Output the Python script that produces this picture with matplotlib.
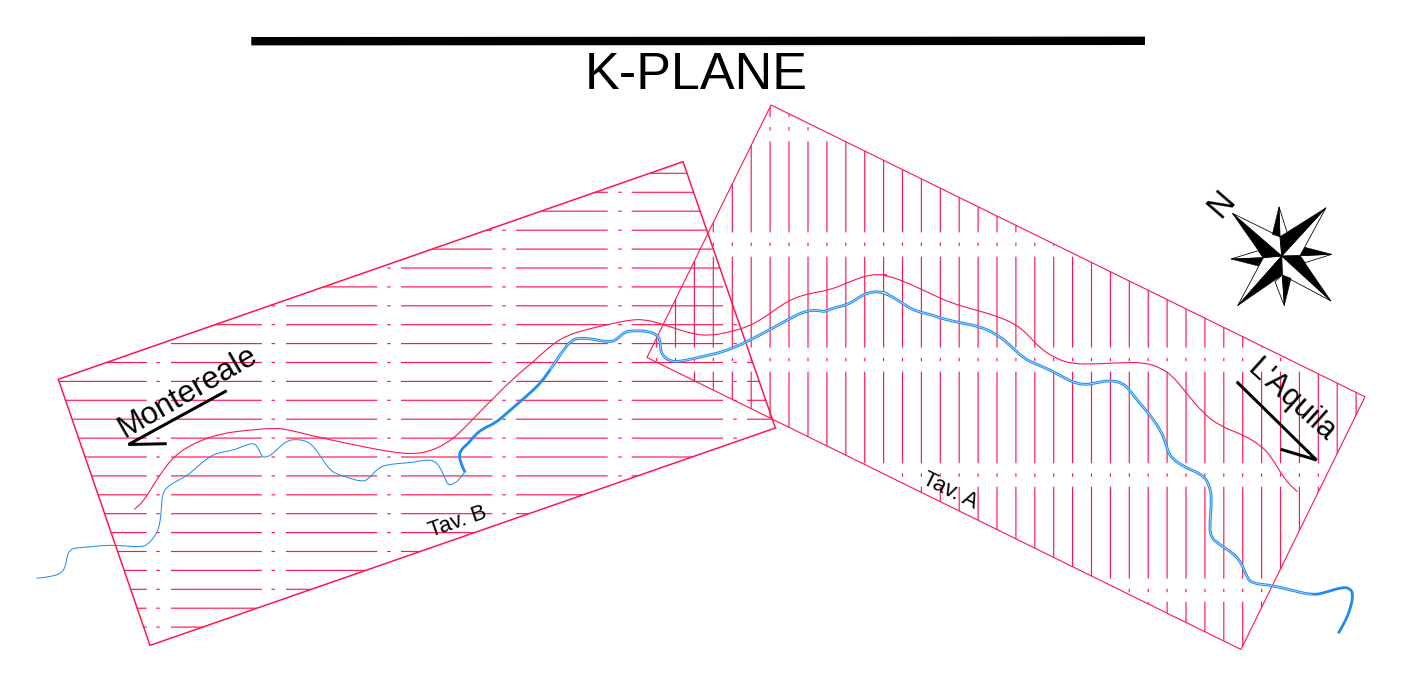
import numpy as np
import matplotlib
matplotlib.use("Agg")
import matplotlib.pyplot as plt
from matplotlib.patches import Polygon, PathPatch
from matplotlib.path import Path

plt.rcParams['font.family'] = ['Liberation Sans', 'DejaVu Sans']

RED = "#FF1450"
BLUE = "#1E8CF0"
PX = 0.72  # one pixel in points at dpi 100

# ---- sheets (image pixel coordinates)
tav_b_corners = [(58.3, 379.3), (683, 161.7), (775.4, 428), (150, 645.4)]
tav_a_corners = [(771, 105), (1365, 396.8), (1241, 649.5), (647, 357.5)]

# ---- hatching of the sheets
tav_b_rows = [173.3, 192.3, 211.2, 230.2, 249.1, 268, 286.9, 305.8, 324.7, 343.6,
              362.5, 381.4, 400.3, 419.2, 438.1, 457, 475.9, 494.8, 513.7, 532.6,
              551.5, 570.4, 589.3, 608.2, 627.1]
tav_b_dashes = [(50, 146.7), (171, 261.9), (286, 377.2), (401, 492.3), (516, 607.7),
                (631.7, 723), (747, 838.3)]
tav_b_dots = [(156.3, 159.7), (271.5, 275), (387.2, 390.7), (502.3, 505.8),
              (618.2, 621.7), (733.4, 736.8)]

tav_a_cols = [656.7, 675.5, 694.4, 713.3, 732.3, 751.2, 770.1, 789, 808, 826.9,
              845.8, 864.7, 883.6, 902.5, 921.4, 940.3, 959.2, 978.1, 997, 1015.9,
              1034.8, 1053.7, 1072.6, 1091.5, 1110.4, 1129.3, 1148.2, 1167.1, 1186,
              1204.9, 1223.8, 1242.7, 1261.6, 1280.5, 1299.4, 1318.3, 1337.2, 1356.1]
tav_a_dashes = [(26, 117), (141.3, 232.4), (256.7, 347.6), (371.7, 463.2),
                (486.7, 578.6), (601.7, 693)]
tav_a_dots = [(127, 130.5), (242.6, 246), (357.8, 361.2), (473.3, 476.8), (588.8, 592.2)]

# ---- traced lines: (x, y) on a 3x crop whose origin is given in the trace() call
river_west_thin = [(20, 1285), (60, 1280), (90, 1272), (105, 1255), (110, 1225), (118, 1200),
                   (140, 1193), (180, 1191), (220, 1186), (260, 1186), (300, 1189), (335, 1190),
                   (352, 1184), (370, 1165), (385, 1140), (392, 1105), (395, 1060), (398, 1030),
                   (412, 1010), (440, 993), (470, 978), (500, 952), (535, 922), (565, 908),
                   (610, 901), (645, 886), (670, 879), (683, 890), (695, 920), (710, 922),
                   (730, 910), (755, 885), (775, 871), (800, 868), (830, 873), (852, 890),
                   (875, 925), (900, 960), (920, 972), (960, 985), (995, 995), (1015, 988),
                   (1040, 958), (1065, 945), (1110, 940), (1150, 937), (1190, 929), (1215, 933),
                   (1232, 955), (1245, 985), (1255, 1007), (1275, 1000), (1290, 985), (1305, 965)]
river_mid = [(75, 1117), (65, 1095), (57, 1070), (62, 1050), (85, 1030), (105, 1005), (130, 985),
             (165, 970), (200, 940), (240, 905), (275, 875), (305, 845), (330, 810), (350, 780),
             (370, 750), (395, 720), (420, 714), (450, 716), (480, 722), (515, 726), (530, 718),
             (555, 695), (580, 692), (620, 693), (650, 703), (660, 720), (661, 745), (668, 768),
             (690, 783), (715, 785), (750, 778), (800, 767), (850, 755), (900, 735), (960, 705),
             (1020, 672), (1060, 650), (1100, 632), (1135, 631), (1155, 636), (1175, 625),
             (1220, 615), (1250, 597), (1280, 578), (1320, 574), (1350, 585)]
river_east = [(0, 335), (20, 342), (45, 355), (70, 372), (105, 393), (150, 403), (190, 417),
              (240, 428), (300, 440), (345, 460), (385, 490), (430, 535), (470, 553), (515, 572),
              (550, 592), (580, 607), (615, 615), (650, 608), (690, 601), (725, 608), (745, 625),
              (775, 665), (810, 705), (845, 755), (860, 800), (870, 830), (910, 860), (970, 885),
              (990, 920), (995, 960), (990, 1020), (990, 1070), (1020, 1095), (1060, 1120),
              (1085, 1150), (1100, 1190), (1115, 1210), (1175, 1216), (1240, 1232), (1300, 1246),
              (1340, 1236), (1385, 1222), (1410, 1224), (1420, 1245), (1410, 1290), (1395, 1325),
              (1375, 1360)]

bank_west = [(313, 1078), (340, 1055), (370, 1005), (400, 960), (430, 922), (470, 892), (520, 868),
             (580, 850), (640, 842), (730, 834), (770, 838), (850, 858), (950, 880), (1050, 900),
             (1100, 908), (1150, 912), (1200, 904), (1250, 880), (1290, 848), (1350, 785)]
bank_mid = [(150, 905), (220, 835), (280, 785), (340, 730), (385, 705), (440, 688), (520, 670),
            (570, 660), (610, 658), (660, 670), (710, 687), (760, 702), (810, 707), (860, 698),
            (920, 682), (970, 655), (1020, 618), (1060, 595), (1110, 580), (1170, 570), (1230, 545),
            (1280, 526), (1320, 523), (1350, 527)]
bank_east = [(0, 284), (40, 292), (90, 312), (150, 340), (210, 368), (280, 388), (350, 408),
             (405, 432), (440, 460), (480, 505), (530, 537), (580, 552), (650, 552), (720, 548),
             (790, 547), (840, 562), (880, 590), (920, 640), (970, 700), (1020, 738), (1090, 765),
             (1140, 795), (1170, 825), (1200, 875), (1225, 910), (1252, 935)]

# ---- title, labels, arrows
title_text = "K-PLANE"
title_bar = [(251.3, 41.2), (1145, 40.8)]
arrow_montereale = [(226.7, 390.7), (128.5, 444.5), (166.7, 443.7)]
arrow_aquila = [(1236.7, 381.7), (1316.5, 460), (1280.7, 449.3)]
labels = ["Montereale", "L'Aquila", "Tav. B", "Tav. A", "N"]
label_xy = [(187.5, 392), (1291, 401), (458, 522), (950, 491), (1222, 204)]
label_rot = [30, -42, 19, -26, 49]
label_size = [22.3, 22, 16, 16, 24]

# ---- compass rose
rose_black = [
    [(1232.3, 213.3), (1281.7, 256), (1263.3, 257.7)],
    [(1326, 207.7), (1281.7, 256), (1280, 236.7)],
    [(1331, 301), (1281.7, 256), (1300, 255.7)],
    [(1237.7, 305.7), (1281.7, 256), (1282.3, 275)],
    [(1279, 206.7), (1272.3, 234.3), (1280, 236.7)],
    [(1331.7, 254.3), (1305, 247.3), (1300, 255.7)],
    [(1284.3, 305.7), (1291, 278.3), (1282.3, 275)],
    [(1231, 259), (1258.3, 266), (1263.3, 257.7)],
]
rose_white = [
    [(1232.3, 213.3), (1281.7, 256), (1280, 236.7)],
    [(1326, 207.7), (1281.7, 256), (1300, 255.7)],
    [(1331, 301), (1281.7, 256), (1282.3, 275)],
    [(1237.7, 305.7), (1281.7, 256), (1263.3, 257.7)],
    [(1279, 206.7), (1287.7, 234.3), (1280, 236.7)],
    [(1331.7, 254.3), (1305, 262.7), (1300, 255.7)],
    [(1284.3, 305.7), (1275, 281.7), (1282.3, 275)],
    [(1231, 259), (1258.3, 250.7), (1263.3, 257.7)],
]


def trace(points, x0, y0):
    p = np.asarray(points, float)
    return p[:, 0] / 3 + x0, p[:, 1] / 3 + y0


def rounded(ax, x, y, **kw):
    """Draw a traced line with its corners rounded by quadratic curves."""
    pts = np.column_stack([x, y])
    mids = (pts[:-1] + pts[1:]) / 2
    verts = [pts[0], mids[0]]
    codes = [Path.MOVETO, Path.LINETO]
    for ctrl, end in zip(pts[1:-1], mids[1:]):
        verts += [ctrl, end]
        codes += [Path.CURVE3, Path.CURVE3]
    verts.append(pts[-1])
    codes.append(Path.LINETO)
    patch = PathPatch(Path(np.array(verts), codes), fill=False, **kw)
    ax.add_patch(patch)
    return patch


fig = plt.figure(figsize=(14.24, 6.89), dpi=100)
ax = fig.add_axes([0, 0, 1, 1])
ax.set_xlim(0, 1424)
ax.set_ylim(689, 0)
ax.axis("off")

# sheets and hatching
b_patch = Polygon(tav_b_corners, closed=True, fill=False, ec=RED, lw=1.5 * PX, zorder=3)
a_patch = Polygon(tav_a_corners, closed=True, fill=False, ec=RED, lw=1.1 * PX, zorder=3)
ax.add_patch(b_patch)
ax.add_patch(a_patch)

for start, stop in tav_b_dashes + tav_b_dots:
    c = ax.hlines(tav_b_rows, start, stop, color=RED, lw=1.15 * PX, zorder=2)
    c.set_snap(False)
    c.set_clip_path(b_patch)
for start, stop in tav_a_dashes + tav_a_dots:
    c = ax.vlines(tav_a_cols, start, stop, color=RED, lw=1.15 * PX, zorder=2)
    c.set_snap(False)
    c.set_clip_path(a_patch)

# bank line
bw, bm, be = trace(bank_west, 30, 150), trace(bank_mid, 440, 100), trace(bank_east, 880, 180)
rounded(ax, np.concatenate([bw[0], bm[0], be[0]]), np.concatenate([bw[1], bm[1], be[1]]),
        ec=RED, lw=1.1 * PX, zorder=4)

# river
rounded(ax, *trace(river_west_thin, 30, 150), ec=BLUE, lw=1.0 * PX, zorder=5)
rm, re_ = trace(river_mid, 440, 100), trace(river_east, 880, 180)
rx = np.concatenate([rm[0], re_[0]])
ry = np.concatenate([rm[1], re_[1]])
rounded(ax, rx, ry, ec=BLUE, lw=2.8 * PX, zorder=5, capstyle="butt")
n_west = 12
n_tail = 7
rounded(ax, rx[n_west:-n_tail], ry[n_west:-n_tail], ec="white", lw=0.7 * PX, alpha=0.8, zorder=6)

# title
ax.plot(*zip(*title_bar), color="black", lw=8.4 * PX, solid_capstyle="butt", zorder=7)
ax.text(696, 75.5, title_text, fontsize=37.5, ha="center", va="center", color="black", zorder=7)

# arrows and labels
for arrow in (arrow_montereale, arrow_aquila):
    ax.plot(*zip(*arrow), color="black", lw=3 * PX, solid_joinstyle="miter", solid_capstyle="butt", zorder=7)
for s, (x, y), r, fs in zip(labels, label_xy, label_rot, label_size):
    ax.text(x, y, s, rotation=r, rotation_mode="anchor", fontsize=fs, ha="center", va="center",
            color="black", zorder=7)

# compass rose
for tri in rose_white:
    ax.add_patch(Polygon(tri, closed=True, fc="white", ec="black", lw=0.8 * PX, zorder=8))
for tri in rose_black:
    ax.add_patch(Polygon(tri, closed=True, fc="black", ec="black", lw=0.5 * PX, zorder=9))

fig.savefig("out.png", dpi=100, facecolor="white")
